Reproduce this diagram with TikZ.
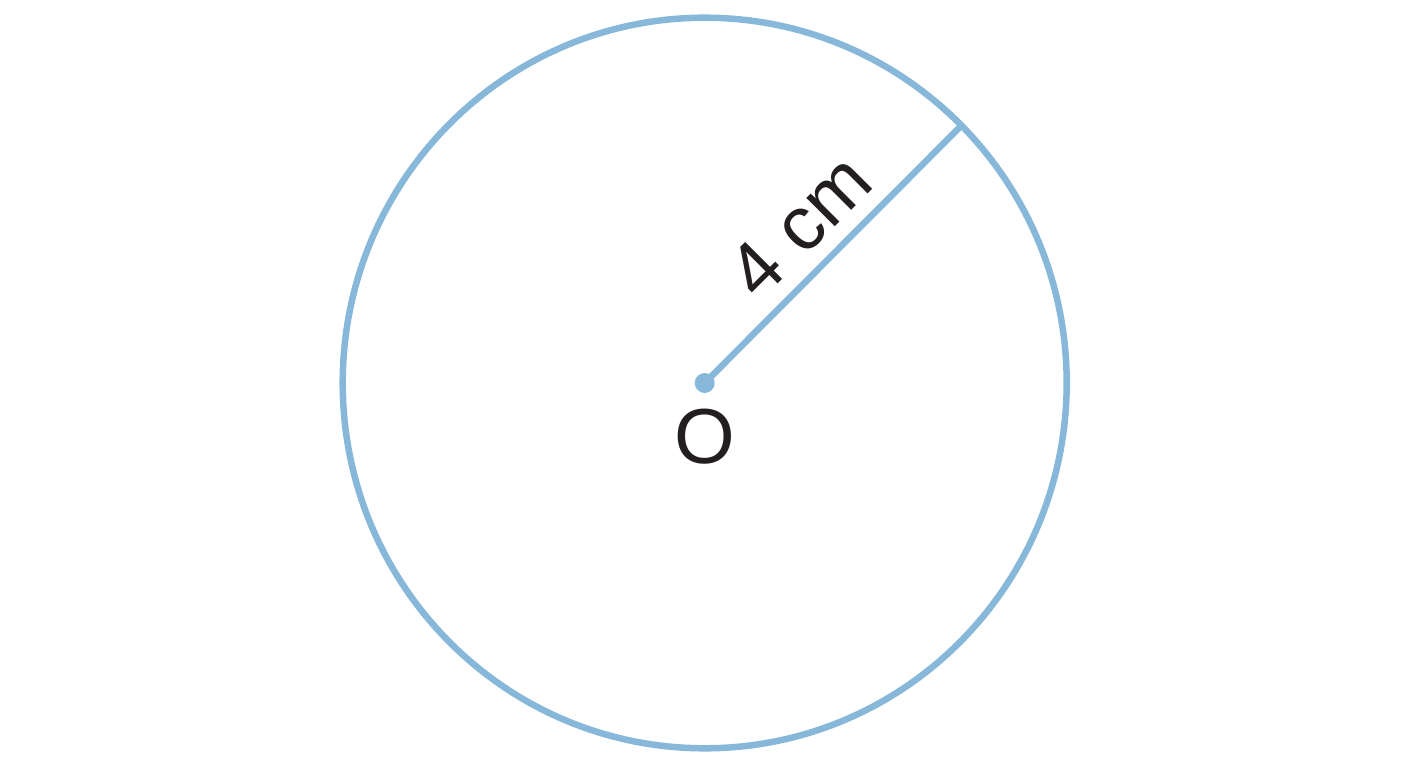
\documentclass[tikz,border=0pt]{standalone}
\usepackage{fontspec}
\setmainfont{Liberation Sans}
\definecolor{cblue}{HTML}{88B8D9}
\definecolor{ctext}{HTML}{231F20}
\begin{document}
\begin{tikzpicture}[x=1pt,y=-1pt,
  blueline/.style={draw=cblue,line width=6.5pt},
  lbl/.style={text=ctext,inner sep=0pt}]
\useasboundingbox (0,0) rectangle (1408,768);
\coordinate (C) at (704.7,383);
\coordinate (E) at (961,126);
\draw[blueline] (C) ellipse [x radius=362, y radius=365.3];
\draw[blueline] (C) -- (E);
\fill[cblue] (C) circle (10);
\node[lbl,anchor=base,rotate=45,font=\fontsize{76}{82}\selectfont] (r) at (818,244) {4 cm};
\node[lbl,font=\fontsize{78}{84}\selectfont] (o) at (705,437) {O};
\end{tikzpicture}
\end{document}
